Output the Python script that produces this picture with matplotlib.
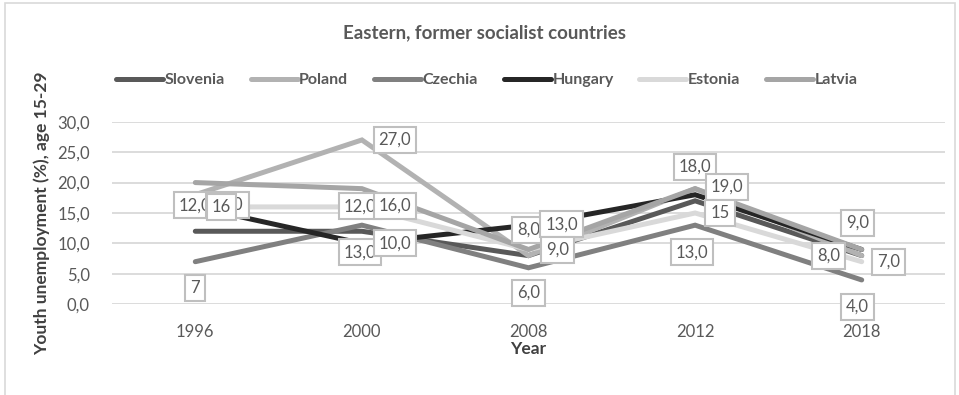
import matplotlib.pyplot as plt
from matplotlib.patches import Rectangle

# Youth unemployment (%), age 15-29
years = ['1996', '2000', '2008', '2012', '2018']
slovenia = [12, 12, 8, 17, 8]
poland = [18, 27, 8, 19, 8]
czechia = [7, 13, 6, 13, 4]
hungary = [16, 10, 13, 18, 9]
estonia = [16, 16, 9, 15, 7]
latvia = [20, 19, 9, 19, 9]

series = {
    'Slovenia': (slovenia, '#595959'),
    'Poland': (poland, '#b2b2b2'),
    'Czechia': (czechia, '#808080'),
    'Hungary': (hungary, '#262626'),
    'Estonia': (estonia, '#d9d9d9'),
    'Latvia': (latvia, '#a5a5a5'),
}

# data labels: series, year index, offset in pixels (dx, dy), decimals
# listed in drawing order, later ones sit on top
label_spec = [
    ('Slovenia', 0, 0, 26, 1),
    ('Estonia', 0, 32, 2, 1),
    ('Hungary', 0, 26, 0, 0),
    ('Czechia', 0, 0, -26, 0),
    ('Slovenia', 1, -2, 25, 1),
    ('Estonia', 1, 33, 1, 1),
    ('Poland', 1, 33, 0, 1),
    ('Czechia', 1, -2, -27, 1),
    ('Hungary', 1, 33, 0, 1),
    ('Poland', 2, 0, 26, 1),
    ('Hungary', 2, 33, 1, 1),
    ('Estonia', 2, 29, 0, 1),
    ('Czechia', 2, 0, -25, 1),
    ('Hungary', 3, 0, 28, 1),
    ('Poland', 3, 32, 2, 1),
    ('Estonia', 3, 25, 0, 0),
    ('Czechia', 3, -3, -27, 1),
    ('Latvia', 4, -4, 27, 1),
    ('Slovenia', 4, -33, 0, 1),
    ('Estonia', 4, 27, 0, 1),
    ('Czechia', 4, -4, -27, 1),
]

plt.rcParams['font.family'] = ['Lato', 'DejaVu Sans']
TXT = '#595959'

fig = plt.figure(figsize=(9.59, 3.95), dpi=100)
ax = fig.add_axes([112 / 959, 1 - 304.3 / 395, 833 / 959, 182.6 / 395])

x = range(len(years))
for name, (vals, col) in series.items():
    ax.plot(x, vals, color=col, lw=3.6, label=name, solid_capstyle='round',
            solid_joinstyle='miter', zorder=3)

for k, (name, i, dx, dy, dec) in enumerate(label_spec):
    v = series[name][0][i]
    txt = f'{v:.{dec}f}'.replace('.', ',')
    ax.annotate(txt, (i, v), xytext=(dx, dy), textcoords='offset pixels',
                ha='center', va='center', fontsize=12, color=TXT,
                annotation_clip=False, zorder=10 + k,
                bbox=dict(boxstyle='square,pad=0.3', fc='white',
                          ec='#bfbfbf', lw=1.5))

ax.set_xlim(-0.5, len(years) - 0.5)
ax.set_ylim(0, 30)
ax.set_yticks(range(0, 31, 5))
ax.set_yticklabels([f'{t:.1f}'.replace('.', ',') for t in range(0, 31, 5)])
ax.set_xticks(list(x))
ax.set_xticklabels(years)
ax.tick_params(length=0, labelsize=12, labelcolor=TXT)
ax.tick_params(axis='y', pad=16)
ax.tick_params(axis='x', pad=14)
ax.grid(axis='y', color='#d9d9d9', lw=1.3)
ax.set_axisbelow(True)
for s in ax.spines.values():
    s.set_visible(False)

ax.set_xlabel('Year', fontsize=12.5, fontweight='bold', color='#404040', labelpad=1)
fig.text(42 / 959, 1 - 213 / 395, 'Youth unemployment (%), age 15-29',
         rotation=90, ha='center', va='center', fontsize=12.5,
         fontweight='bold', color='#404040')
fig.text(484 / 959, 1 - 33 / 395, 'Eastern, former socialist countries',
         ha='center', va='center', fontsize=13.5, fontweight='bold', color=TXT)

fig.legend(loc='center left', bbox_to_anchor=(108 / 959, 1 - 80 / 395),
           ncol=6, frameon=False, borderpad=0, handlelength=2.95,
           handletextpad=0.1, columnspacing=1.6,
           prop={'size': 11.5, 'weight': 'bold'}, labelcolor=TXT)

# chart frame
fig.patches.append(Rectangle((5 / 959, -0.1), 950 / 959, 1.1 - 3 / 395,
                             transform=fig.transFigure, fill=False,
                             ec='#d9d9d9', lw=1.2))

fig.savefig('out.png', dpi=100)
